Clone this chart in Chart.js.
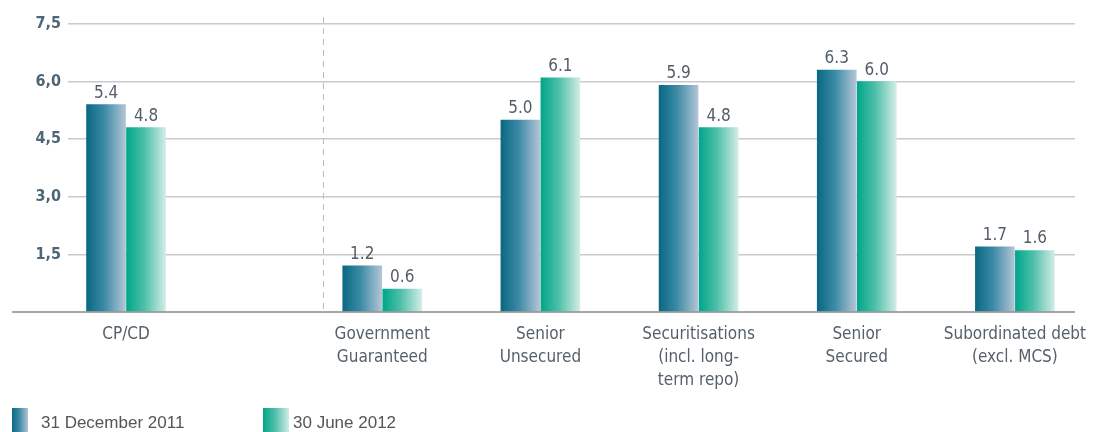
<!DOCTYPE html>
<html>
<head>
<meta charset="utf-8">
<script src="https://cdn.jsdelivr.net/npm/chart.js@4/dist/chart.umd.min.js"></script>
<style>
  html, body { margin: 0; padding: 0; background: #fff; }
  #wrap { position: relative; width: 1093px; height: 432px; overflow: hidden; }
  #legend { position: absolute; left: 0; top: 408px; height: 24px; width: 100%;
            font: 17px "Liberation Sans", Arial, sans-serif; color: #555; }
  .swatch { position: absolute; top: 0; height: 24px; }
  .label { position: absolute; top: 5px; white-space: nowrap; line-height: 20px; }
</style>
</head>
<body>
<div id="wrap">
  <canvas id="chart" width="1093" height="432"></canvas>
  <div id="legend">
    <div class="swatch" style="left:12px;width:16px;background:linear-gradient(90deg,#0b6983,#3b8aa5 45%,#b3c5d6)"></div>
    <div class="label" style="left:41px">31 December 2011</div>
    <div class="swatch" style="left:263px;width:26px;background:linear-gradient(90deg,#02a48b,#4cbfa8 45%,#d2ece6)"></div>
    <div class="label" style="left:293px">30 June 2012</div>
  </div>
</div>
<script>
const categories = [
  "CP/CD",
  ["Government", "Guaranteed"],
  ["Senior", "Unsecured"],
  ["Securitisations", "(incl. long-", "term repo)"],
  ["Senior", "Secured"],
  ["Subordinated debt", "(excl. MCS)"]
]
// group centres along the x axis (CP/CD sits apart from the rest)
const positions = [0, 1.62, 2.62, 3.62, 4.62, 5.62]
const dividerAt = 1.245

const dec2011 = [5.4, 1.2, 5.0, 5.9, 6.3, 1.7]
const jun2012 = [4.8, 0.6, 6.1, 4.8, 6.0, 1.6]

const yTicks = [0, 1.5, 3.0, 4.5, 6.0, 7.5]

const condensed = "'DejaVu Sans Condensed', 'Liberation Sans Narrow', sans-serif"

const darkStops = ["#0a6882", "#3b8aa5", "#b3c5d6"]
const tealStops = ["#00a68b", "#4cbfa8", "#d2ece6"]

const BAR = 40

function barGradient(stops, side) {
  return (context) => {
    const chart = context.chart
    const x = chart.scales.x
    if (!x || !context.raw) return stops[0]
    const centre = x.getPixelForValue(context.raw.x)
    if (!isFinite(centre)) return stops[0]
    const left = centre + (side < 0 ? -BAR : 0) + 0.5
    const g = chart.ctx.createLinearGradient(left, 0, left + BAR - 1, 0)
    g.addColorStop(0, stops[0])
    g.addColorStop(0.45, stops[1])
    g.addColorStop(1, stops[2])
    return g
  }
}

// baseline, dashed divider and value labels
const decorations = {
  id: "decorations",
  beforeDatasetsDraw(chart) {
    const { ctx, chartArea, scales } = chart
    const dx = Math.round(scales.x.getPixelForValue(dividerAt)) + 0.5
    ctx.save()
    ctx.strokeStyle = "#bdbdbd"
    ctx.lineWidth = 1
    ctx.setLineDash([6, 5])
    ctx.beginPath()
    ctx.moveTo(dx, chartArea.top - 7)
    ctx.lineTo(dx, chartArea.bottom)
    ctx.stroke()
    ctx.restore()
  },
  afterDatasetsDraw(chart) {
    const { ctx, chartArea, scales } = chart
    const y0 = scales.y.getPixelForValue(0)
    ctx.save()
    ctx.strokeStyle = "#8a8a8a"
    ctx.lineWidth = 1.5
    ctx.beginPath()
    ctx.moveTo(12, y0)
    ctx.lineTo(chartArea.right, y0)
    ctx.stroke()

    ctx.fillStyle = "#535d68"
    ctx.font = "17px " + condensed
    ctx.textAlign = "center"
    ctx.textBaseline = "bottom"
    chart.data.datasets.forEach((ds, di) => {
      chart.getDatasetMeta(di).data.forEach((bar, i) => {
        ctx.fillText(ds.data[i].y.toFixed(1), bar.x, bar.y - 3)
      })
    })
    ctx.restore()
  }
}

new Chart(document.getElementById("chart"), {
  type: "bar",
  data: {
    datasets: [
      {
        label: "31 December 2011",
        data: dec2011.map((v, i) => ({ x: positions[i], y: v })),
        backgroundColor: barGradient(darkStops, -1)
      },
      {
        label: "30 June 2012",
        data: jun2012.map((v, i) => ({ x: positions[i], y: v })),
        backgroundColor: barGradient(tealStops, 1)
      }
    ]
  },
  options: {
    responsive: false,
    animation: false,
    layout: { padding: { top: 24, right: 18, left: 0, bottom: 0 } },
    datasets: { bar: { barThickness: BAR, maxBarThickness: BAR - 1 } },
    plugins: { legend: { display: false }, tooltip: { enabled: false } },
    scales: {
      x: {
        type: "linear",
        min: -0.367,
        max: 6.0,
        offset: false,
        grid: { display: false },
        border: { display: false },
        afterBuildTicks: (s) => { s.ticks = positions.map(v => ({ value: v })) },
        afterFit: (s) => { s.height = 120 },
        ticks: {
          autoSkip: false,
          maxRotation: 0,
          padding: 3,
          color: "#56606b",
          font: { family: condensed, size: 17, lineHeight: 1.35 },
          callback: (v, i) => categories[i]
        }
      },
      y: {
        min: 0,
        max: 7.5,
        afterBuildTicks: (s) => { s.ticks = yTicks.map(v => ({ value: v })) },
        afterFit: (s) => { s.width = 68 },
        grid: {
          drawTicks: false,
          lineWidth: 1.5,
          color: (c) => c.tick && c.tick.value === 0 ? "rgba(0,0,0,0)" : "#cacaca"
        },
        border: { display: false },
        ticks: {
          padding: 7,
          color: "#4e6676",
          font: { family: condensed, size: 16, weight: "bold" },
          callback: v => v === 0 ? "" : v.toFixed(1).replace(".", ",")
        }
      }
    }
  },
  plugins: [decorations]
})
</script>
</body>
</html>
